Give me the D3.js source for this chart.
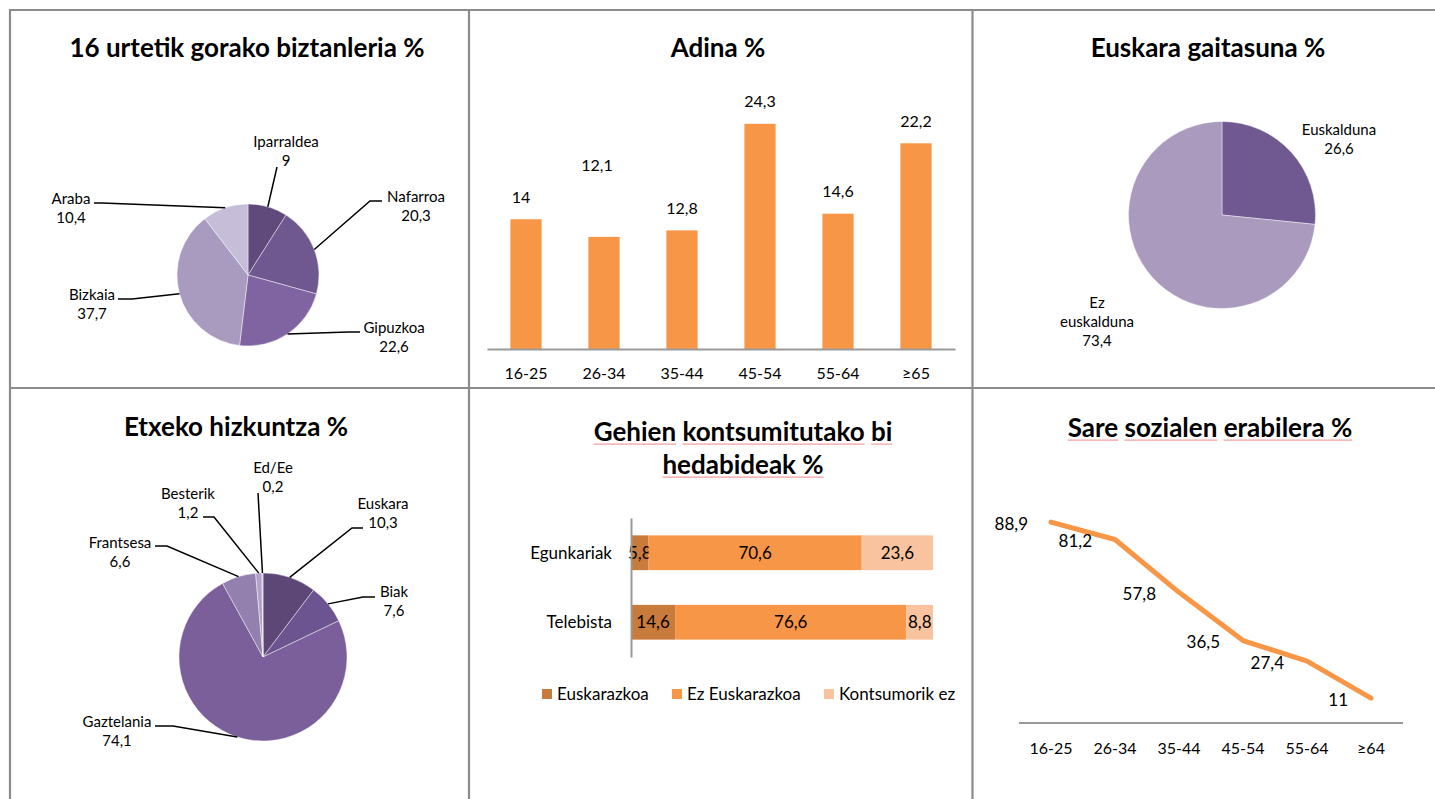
<!DOCTYPE html>
<html><head><meta charset="utf-8">
<script src="https://cdn.jsdelivr.net/npm/d3@7"></script>
<style>
body{margin:0;background:#fff}
svg{display:block}
text{font-family:Lato,"Open Sans",sans-serif;fill:#000}
</style>
</head><body>
<svg id="c" width="1435" height="799"></svg>
<script>
// ---------------- DATA ----------------
const regionLabels = ["Iparraldea", "Nafarroa", "Gipuzkoa", "Bizkaia", "Araba"];
const regionValues = [9, 20.3, 22.6, 37.7, 10.4];

const ageLabels = ["16-25", "26-34", "35-44", "45-54", "55-64", "≥65"];
const ageValues = [14, 12.1, 12.8, 24.3, 14.6, 22.2];

const abilityLabels = ["Euskalduna", "Ez euskalduna"];
const abilityValues = [26.6, 73.4];

const homeLangLabels = ["Euskara", "Biak", "Gaztelania", "Frantsesa", "Besterik", "Ed/Ee"];
const homeLangValues = [10.3, 7.6, 74.1, 6.6, 1.2, 0.2];

const mediaCategories = ["Egunkariak", "Telebista"];
const mediaSeries = ["Euskarazkoa", "Ez Euskarazkoa", "Kontsumorik ez"];
const mediaEuskarazkoa = [5.8, 14.6];
const mediaEzEuskarazkoa = [70.6, 76.6];
const mediaKontsumorikEz = [23.6, 8.8];

const socialLabels = ["16-25", "26-34", "35-44", "45-54", "55-64", "≥64"];
const socialValues = [88.9, 81.2, 57.8, 36.5, 27.4, 11];

// ---------------- HELPERS ----------------
const svg = d3.select("#c");
const fmt = v => String(v).replace(".", ",");
const FONT_T = 26, FONT_L = 15, FONT_A = 16, FONT_B = 17;

function txt(g, x, yc, s, size, opts = {}) {
  return g.append("text")
    .attr("x", x).attr("y", yc + size * 0.35)
    .attr("font-size", size)
    .attr("font-weight", opts.bold ? 700 : 400)
    .attr("text-anchor", opts.anchor || "middle")
    .text(s);
}

// title with optional spell-check style underline (per word groups)
function title(g, x, yc, s, underline) {
  const t = txt(g, x, yc, s, FONT_T, {bold: true});
  if (underline) {
    const node = t.node();
    const total = node.getComputedTextLength();
    const left = x - total / 2;
    const re = /\S+( %)?/g;
    let m;
    while ((m = re.exec(s)) !== null) {
      const start = m.index, len = m[0].length;
      const off = start > 0 ? node.getSubStringLength(0, start) : 0;
      const w = node.getSubStringLength(start, len);
      g.append("line")
        .attr("x1", left + off).attr("x2", left + off + w)
        .attr("y1", yc + FONT_T * 0.35 + 3).attr("y2", yc + FONT_T * 0.35 + 3)
        .attr("stroke", "#f2a0a0").attr("stroke-width", 1.2);
    }
  }
  return t;
}

function drawPie(g, cx, cy, r, values, labels, colors, layout) {
  const pie = d3.pie().sort(null).value(d => d)(values);
  const arc = d3.arc().innerRadius(0).outerRadius(r);
  const edge = d3.arc().innerRadius(r).outerRadius(r);
  const pg = g.append("g").attr("transform", `translate(${cx},${cy})`);
  pg.selectAll("path.s").data(pie).join("path")
    .attr("class", "s")
    .attr("d", arc)
    .attr("fill", (d, i) => colors[i])
    .attr("stroke", "rgba(255,255,255,0.55)")
    .attr("stroke-width", 0.8);
  pie.forEach((d, i) => {
    const L = layout[i];
    if (L.end) {
      const p = edge.centroid(d);
      const pts = [p];
      if (L.elbow) pts.push(L.elbow);
      pts.push(L.end);
      pg.append("path")
        .attr("d", d3.line()(pts))
        .attr("fill", "none").attr("stroke", "#000").attr("stroke-width", 1.5);
    }
    const lines = (L.wrap ? labels[i].split(" ") : [labels[i]]).concat([fmt(values[i])]);
    lines.forEach((s, k) => txt(pg, L.label[0], L.label[1] + k * 19, s, FONT_L));
  });
}

// ---------------- GRID ----------------
const grid = svg.append("g").attr("stroke", "#8c8c8c").attr("stroke-width", 2.2);
grid.append("line").attr("x1", 9).attr("x2", 1435).attr("y1", 10).attr("y2", 10);
grid.append("line").attr("x1", 9).attr("x2", 1435).attr("y1", 388).attr("y2", 388);
grid.append("line").attr("x1", 10).attr("x2", 10).attr("y1", 9).attr("y2", 799);
grid.append("line").attr("x1", 469).attr("x2", 469).attr("y1", 9).attr("y2", 799);
grid.append("line").attr("x1", 972.5).attr("x2", 972.5).attr("y1", 9).attr("y2", 799);

// ---------------- PANEL 1: region pie ----------------
{
  const g = svg.append("g");
  title(g, 247, 48, "16 urtetik gorako biztanleria %");
  drawPie(g, 248, 275, 71, regionValues, regionLabels,
    ["#5f4a7b", "#6f5890", "#8064a2", "#a99ac0", "#c6bed8"],
    [
      {label: [38, -133], end: [29, -108]},
      {label: [168, -78], elbow: [122, -74], end: [134, -74]},
      {label: [146, 53], elbow: [100, 57], end: [112, 57]},
      {label: [-156, 20], elbow: [-116, 24], end: [-130, 24]},
      {label: [-177, -76], elbow: [-146, -72], end: [-154, -72]}
    ]);
}

// ---------------- PANEL 2: age bars ----------------
{
  const g = svg.append("g");
  title(g, 718, 48, "Adina %");
  const x = d3.scaleBand().domain(ageLabels).range([487, 955]).paddingInner(0.6).paddingOuter(0.3);
  const y = d3.scaleLinear().domain([0, 30]).range([349, 71]);
  g.selectAll("rect").data(ageValues).join("rect")
    .attr("x", (d, i) => x(ageLabels[i]))
    .attr("width", x.bandwidth())
    .attr("y", d => y(d))
    .attr("height", d => y(0) - y(d))
    .attr("fill", "#f79646");
  // label nudges (Excel manual label placement)
  const nudge = [[-5, 0], [-7, -49], [0, 0], [0, 0], [0, 0], [0, 0]];
  ageValues.forEach((v, i) => {
    txt(g, x(ageLabels[i]) + x.bandwidth() / 2 + nudge[i][0], y(v) - 22 + nudge[i][1], fmt(v), FONT_A);
  });
  const ax = g.append("g").attr("transform", "translate(0,349)")
    .call(d3.axisBottom(x).tickSize(0).tickPadding(0));
  ax.select(".domain").attr("stroke", "#999").attr("stroke-width", 2);
  ax.selectAll(".tick text").remove();
  ageLabels.forEach(c => txt(g, x(c) + x.bandwidth() / 2, 373, c, FONT_A));
}

// ---------------- PANEL 3: ability pie ----------------
{
  const g = svg.append("g");
  title(g, 1208, 48, "Euskara gaitasuna %");
  drawPie(g, 1222, 215, 93.5, abilityValues, abilityLabels,
    ["#705990", "#a99abe"],
    [
      {label: [117, -85]},
      {label: [-125, 88], wrap: true}
    ]);
}

// ---------------- PANEL 4: home language pie ----------------
{
  const g = svg.append("g");
  title(g, 236, 427, "Etxeko hizkuntza %");
  drawPie(g, 263, 657, 84, homeLangValues, homeLangLabels,
    ["#5c4776", "#6b5490", "#7b5f9a", "#9480ae", "#b0a2c8", "#cbc2dc"],
    [
      {label: [120, -153], elbow: [89, -129], end: [100, -129]},
      {label: [131, -65], elbow: [100, -60], end: [112, -60]},
      {label: [-146, 65], elbow: [-90, 69], end: [-108, 69]},
      {label: [-143, -114], elbow: [-96, -111], end: [-108, -111]},
      {label: [-75, -163], elbow: [-49, -140], end: [-60, -140]},
      {label: [10, -189], end: [-5, -164]}
    ]);
}

// ---------------- PANEL 5: media stacked bars ----------------
{
  const g = svg.append("g");
  title(g, 743, 432, "Gehien kontsumitutako bi", true);
  title(g, 743, 465, "hedabideak %", true);
  const colors = ["#c97b3b", "#f79646", "#fac3a0"];
  const rows = mediaCategories.map((c, i) => ({
    cat: c,
    "Euskarazkoa": mediaEuskarazkoa[i],
    "Ez Euskarazkoa": mediaEzEuskarazkoa[i],
    "Kontsumorik ez": mediaKontsumorikEz[i]
  }));
  const stack = d3.stack().keys(mediaSeries)(rows);
  const x = d3.scaleLinear().domain([0, 100]).range([631, 933]);
  const y = d3.scaleBand().domain(mediaCategories).range([518, 657]).paddingInner(0.5).paddingOuter(0.25);
  stack.forEach((s, si) => {
    g.append("g").selectAll("rect").data(s).join("rect")
      .attr("x", d => x(d[0]))
      .attr("width", d => x(d[1]) - x(d[0]))
      .attr("y", d => y(d.data.cat))
      .attr("height", y.bandwidth())
      .attr("fill", colors[si]);
    s.forEach(d => {
      txt(g, (x(d[0]) + x(d[1])) / 2, y(d.data.cat) + y.bandwidth() / 2, fmt(+(d[1] - d[0]).toFixed(1)), FONT_B);
    });
  });
  const ay = g.append("g").attr("transform", "translate(631,0)")
    .call(d3.axisLeft(y).tickSize(0).tickPadding(0));
  ay.select(".domain").attr("stroke", "#999").attr("stroke-width", 2);
  ay.selectAll(".tick text").remove();
  mediaCategories.forEach(c => txt(g, 612, y(c) + y.bandwidth() / 2, c, FONT_B, {anchor: "end"}));
  // legend
  const legX = [542, 672, 824];
  mediaSeries.forEach((s, i) => {
    g.append("rect").attr("x", legX[i]).attr("y", 689).attr("width", 10).attr("height", 10).attr("fill", colors[i]);
    txt(g, legX[i] + 15, 694, s, FONT_B, {anchor: "start"});
  });
}

// ---------------- PANEL 6: social network line ----------------
{
  const g = svg.append("g");
  title(g, 1210, 428, "Sare sozialen erabilera %", true);
  const x = d3.scalePoint().domain(socialLabels).range([1019, 1403]).padding(0.5);
  const y = d3.scaleLinear().domain([0, 100]).range([723, 497]);
  g.append("line").attr("x1", 1019).attr("x2", 1403).attr("y1", y(0)).attr("y2", y(0))
    .attr("stroke", "#999").attr("stroke-width", 2);
  g.append("path")
    .datum(socialValues)
    .attr("d", d3.line().x((d, i) => x(socialLabels[i])).y(d => y(d)))
    .attr("fill", "none").attr("stroke", "#f79646").attr("stroke-width", 5)
    .attr("stroke-linecap", "round").attr("stroke-linejoin", "round");
  socialValues.forEach((v, i) => txt(g, x(socialLabels[i]) - 23, y(v) + 2, fmt(v), FONT_B, {anchor: "end"}));
  socialLabels.forEach(c => txt(g, x(c), 748, c, FONT_A));
}
</script>
</body></html>
